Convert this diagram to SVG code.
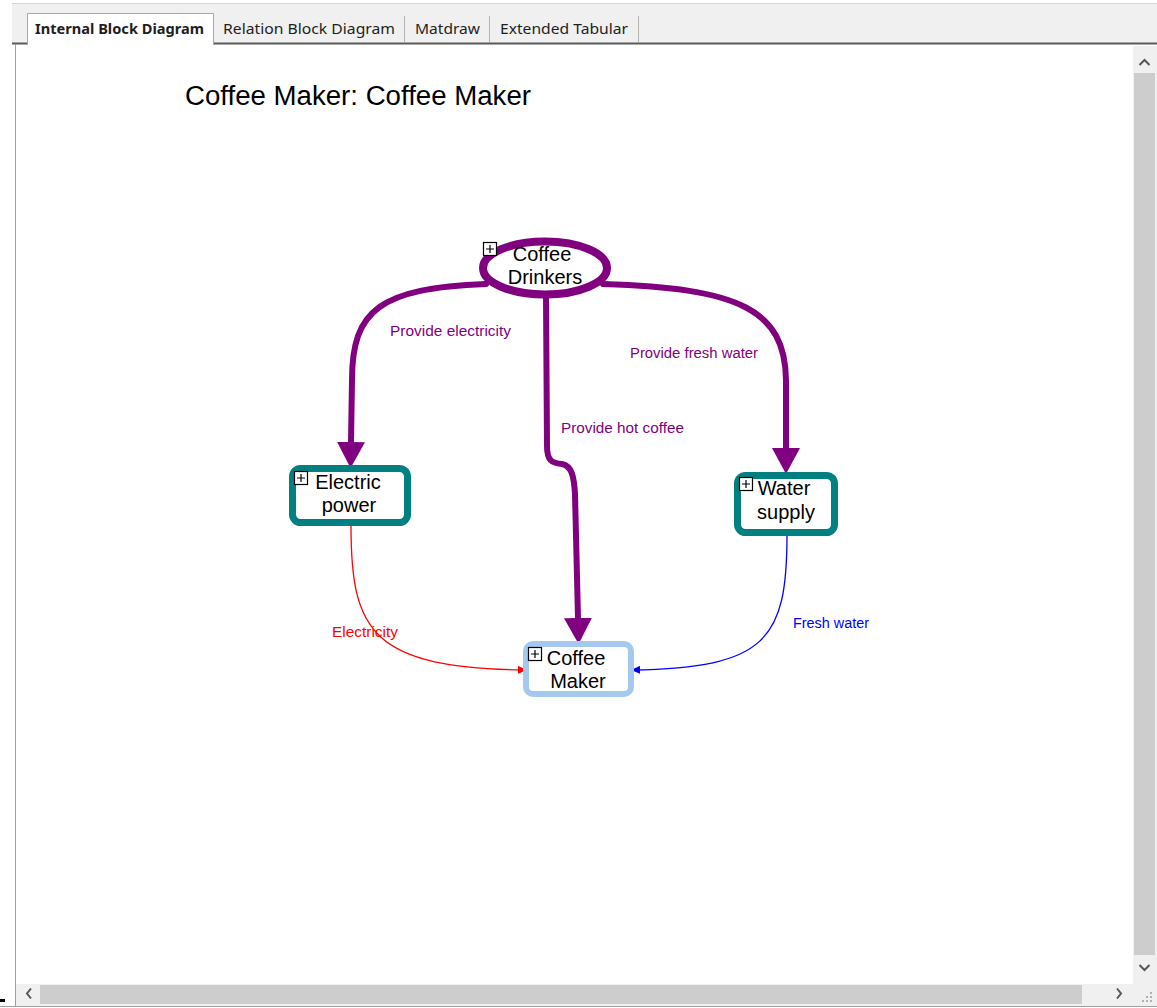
<svg xmlns="http://www.w3.org/2000/svg" width="1157" height="1008" viewBox="0 0 1157 1008">
  <style>
    .tab { font-family: "Noto Sans", "Open Sans", sans-serif; font-size: 14px; fill: #1e1e1e; }
    .tab-active { font-weight: bold; }
    .title { font-family: "Liberation Sans", Arial, sans-serif; font-size: 27px; fill: #000; }
    .node-text { font-family: "Liberation Sans", Arial, sans-serif; font-size: 20px; fill: #000; text-anchor: middle; }
    .label { font-family: "Liberation Sans", Arial, sans-serif; font-size: 14px; }
    .expand { fill: #fff; stroke: #000; stroke-width: 1.2; }
    .expand-mark { stroke: #000; stroke-width: 1.2; }
    .flow-main { fill: none; stroke: #800080; stroke-width: 6; stroke-linecap: round; stroke-linejoin: round; }
    .chev { fill: none; stroke: #555; stroke-width: 2; }
  </style>
  <defs>
    <marker id="arrow-big" viewBox="0 -14 26 28" refX="0" refY="0" markerWidth="26" markerHeight="28" markerUnits="userSpaceOnUse" orient="auto">
      <path d="M0,-14 L26,0 L0,14 z" fill="#800080"/>
    </marker>
    <marker id="arrow-red" viewBox="0 -4 9 8" refX="8" refY="0" markerWidth="9" markerHeight="8" markerUnits="userSpaceOnUse" orient="auto">
      <path d="M0,-4 L9,0 L0,4 z" fill="#ff0000"/>
    </marker>
    <marker id="arrow-blue" viewBox="0 -4 9 8" refX="8" refY="0" markerWidth="9" markerHeight="8" markerUnits="userSpaceOnUse" orient="auto">
      <path d="M0,-4 L9,0 L0,4 z" fill="#0000ff"/>
    </marker>
  </defs>

  <!-- window chrome -->
  <rect x="0" y="0" width="1157" height="1008" fill="#ffffff"/>
  <rect x="12" y="4" width="1145" height="40" fill="#f0f0f0"/>
  <line x1="12" y1="3.5" x2="1157" y2="3.5" stroke="#c5d8ef" stroke-width="1"/>

  <!-- tab strip -->
  <g id="tabs">
    <line x1="12" y1="43.5" x2="1157" y2="43.5" stroke="#5a5a5a" stroke-width="2"/>
    <path d="M27.5,44.5 L27.5,13.5 L213.5,13.5 L213.5,44.5" fill="#ffffff" stroke="#a8a8a8" stroke-width="1"/>
    <rect x="28" y="14" width="185" height="32" fill="#ffffff"/>
    <text class="tab tab-active" x="35" y="34" textLength="169" lengthAdjust="spacingAndGlyphs">Internal Block Diagram</text>
    <text class="tab" x="223" y="34" textLength="172" lengthAdjust="spacingAndGlyphs">Relation Block Diagram</text>
    <line x1="404.5" y1="16" x2="404.5" y2="42" stroke="#b4b4b4"/>
    <text class="tab" x="415" y="34" textLength="65" lengthAdjust="spacingAndGlyphs">Matdraw</text>
    <line x1="489.5" y1="16" x2="489.5" y2="42" stroke="#b4b4b4"/>
    <text class="tab" x="500" y="34" textLength="128" lengthAdjust="spacingAndGlyphs">Extended Tabular</text>
    <line x1="638.5" y1="16" x2="638.5" y2="42" stroke="#b4b4b4"/>
  </g>

  <!-- canvas -->
  <rect x="15" y="46" width="1118" height="938" fill="#ffffff"/>
  <line x1="15.5" y1="44" x2="15.5" y2="1006" stroke="#a0a0a0" stroke-width="1"/>

  <!-- vertical scrollbar -->
  <g id="vscroll">
    <rect x="1133" y="46" width="24" height="938" fill="#f0f0f0"/>
    <rect x="1134" y="73" width="21" height="882" fill="#cdcdcd"/>
    <path class="chev" d="M1139.5,65 L1144.5,60 L1149.5,65"/>
    <path class="chev" d="M1139.5,965 L1144.5,970 L1149.5,965"/>
  </g>
  <!-- horizontal scrollbar -->
  <g id="hscroll">
    <rect x="16" y="984" width="1141" height="22" fill="#f0f0f0"/>
    <rect x="40" y="985" width="1042" height="19" fill="#cdcdcd"/>
    <path class="chev" d="M31,988.5 L27,993.5 L31,998.5"/>
    <path class="chev" d="M1117,988.5 L1121,993.5 L1117,998.5"/>
    <g fill="#b0b0b0">
      <rect x="1150" y="992" width="2" height="2"/>
      <rect x="1146" y="996" width="2" height="2"/>
      <rect x="1150" y="996" width="2" height="2"/>
      <rect x="1142" y="1000" width="2" height="2"/>
      <rect x="1146" y="1000" width="2" height="2"/>
      <rect x="1150" y="1000" width="2" height="2"/>
    </g>
    <line x1="0" y1="1006.5" x2="1157" y2="1006.5" stroke="#a0a0a0"/>
    <rect x="0" y="999" width="5" height="3" fill="#000"/>
  </g>

  <text class="title" x="185" y="105" textLength="346" lengthAdjust="spacingAndGlyphs">Coffee Maker: Coffee Maker</text>

  <!-- connectors -->
  <g id="connectors">
    <path class="flow-main" d="M486,284 C380,288 352,310 352,380 L351,442" marker-end="url(#arrow-big)"/>
    <path class="flow-main" d="M603,284 C740,288 785,310 786,380 L786,448" marker-end="url(#arrow-big)"/>
    <path class="flow-main" d="M546,297 L547,446 C547,461 552,463 562,464 C572,466 574,477 575,494 L578,618" marker-end="url(#arrow-big)"/>
    <path d="M351,526 C351,632 372,668 526,670" fill="none" stroke="#ff0000" stroke-width="1.3" marker-end="url(#arrow-red)"/>
    <path d="M787,535 C787,640 766,668 632,670" fill="none" stroke="#0000ff" stroke-width="1.3" marker-end="url(#arrow-blue)"/>
    <text class="label" x="390" y="336" fill="#800080" textLength="121" lengthAdjust="spacingAndGlyphs">Provide electricity</text>
    <text class="label" x="630" y="358" fill="#800080" textLength="128" lengthAdjust="spacingAndGlyphs">Provide fresh water</text>
    <text class="label" x="561" y="433" fill="#800080" textLength="123" lengthAdjust="spacingAndGlyphs">Provide hot coffee</text>
    <text class="label" x="332" y="637" fill="#ff0000" textLength="66" lengthAdjust="spacingAndGlyphs">Electricity</text>
    <text class="label" x="793" y="628" fill="#0000ff" textLength="76" lengthAdjust="spacingAndGlyphs">Fresh water</text>
  </g>

  <!-- nodes -->
  <g id="coffee-drinkers">
    <ellipse cx="545" cy="268" rx="62" ry="26.5" fill="#ffffff" stroke="#800080" stroke-width="8"/>
    <rect class="expand" x="483.5" y="242.5" width="13" height="13"/>
    <path class="expand-mark" d="M486,249 L494,249 M490,245 L490,253"/>
    <text class="node-text" x="542" y="261">Coffee</text>
    <text class="node-text" x="545" y="284">Drinkers</text>
  </g>

  <g id="electric-power">
    <rect x="292.5" y="468.5" width="115" height="54" rx="8" fill="#ffffff" stroke="#008080" stroke-width="7"/>
    <rect class="expand" x="294.5" y="471.5" width="13" height="13"/>
    <path class="expand-mark" d="M297,478 L305,478 M301,474 L301,482"/>
    <text class="node-text" x="348" y="489">Electric</text>
    <text class="node-text" x="349" y="512">power</text>
  </g>

  <g id="water-supply">
    <rect x="737.5" y="475.5" width="97" height="57" rx="8" fill="#ffffff" stroke="#008080" stroke-width="7"/>
    <rect class="expand" x="739.5" y="477.5" width="13" height="13"/>
    <path class="expand-mark" d="M742,484 L750,484 M746,480 L746,488"/>
    <text class="node-text" x="784" y="495">Water</text>
    <text class="node-text" x="786" y="519">supply</text>
  </g>

  <g id="coffee-maker">
    <rect x="526" y="644" width="105" height="50" rx="7" fill="#ffffff" stroke="#a4c8ee" stroke-width="6"/>
    <rect class="expand" x="528.5" y="647.5" width="13" height="13"/>
    <path class="expand-mark" d="M531,654 L539,654 M535,650 L535,658"/>
    <text class="node-text" x="576" y="665">Coffee</text>
    <text class="node-text" x="578" y="688">Maker</text>
  </g>
</svg>
